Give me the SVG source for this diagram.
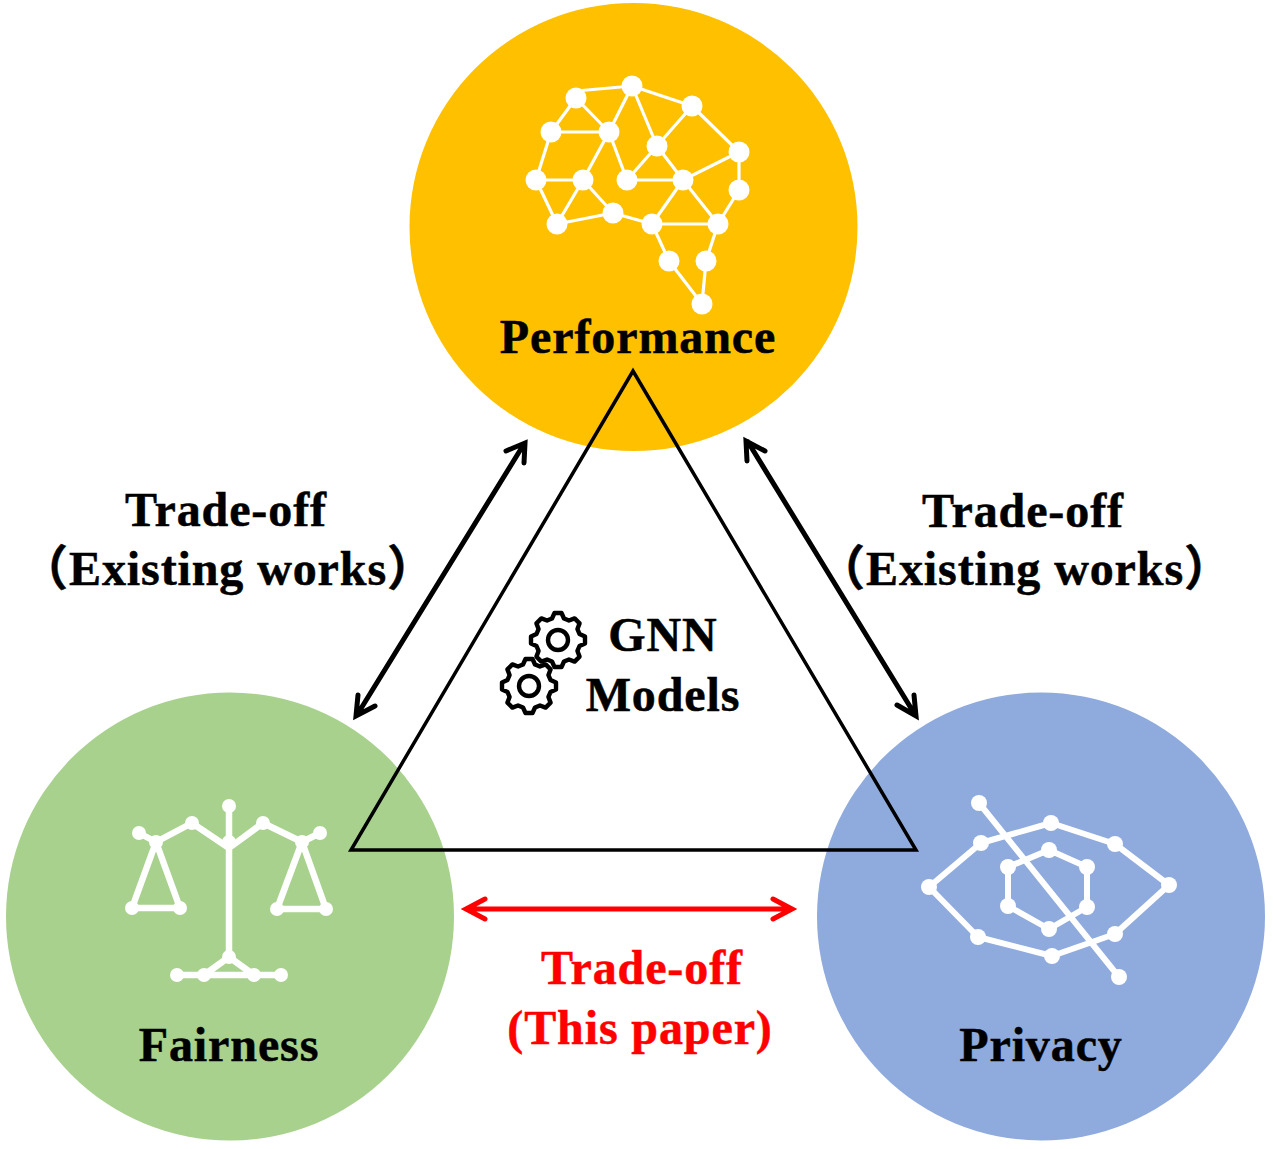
<svg xmlns="http://www.w3.org/2000/svg" width="1274" height="1149" viewBox="0 0 1274 1149">
<style>
text{font-family:"Liberation Serif","Noto Sans CJK SC",serif;font-weight:700;font-size:48px;fill:#000;stroke:#000;stroke-width:.5;letter-spacing:.9px;text-anchor:middle}
text.r{fill:#f00;stroke:#f00}
.w{stroke:#fff;fill:none;stroke-linecap:round;stroke-linejoin:round}
.d{fill:#fff}
.gear{fill:none;stroke:#000;stroke-width:4.4;stroke-linejoin:round}
.arrow{fill:none;stroke:#000;stroke-width:5;stroke-linecap:round;stroke-linejoin:miter}
.red{fill:none;stroke:#f00;stroke-width:5;stroke-linecap:round}
</style>
<defs>
<g id="gearShape">
<path class="gear" d="M-6,-21.5L-3.5,-27L3.5,-27L6,-21.5L10.96,-19.45L16.62,-21.57L21.57,-16.62L19.45,-10.96L21.5,-6L27,-3.5L27,3.5L21.5,6L19.45,10.96L21.57,16.62L16.62,21.57L10.96,19.45L6,21.5L3.5,27L-3.5,27L-6,21.5L-10.96,19.45L-16.62,21.57L-21.57,16.62L-19.45,10.96L-21.5,6L-27,3.5L-27,-3.5L-21.5,-6L-19.45,-10.96L-21.57,-16.62L-16.62,-21.57L-10.96,-19.45Z"/>
<circle class="gear" r="10"/>
</g>
</defs>
<g id="performance">
<circle cx="633.500" cy="227" r="224" fill="#ffc000"/>
<path class="w" stroke-width="3.2" d="M576,91L632,86L692,106L739,152L739,190L718,224M632,86L609,132M632,86L657,146L683,180L739,152M692,106L657,146L627,180M576,98L609,132L583,180L557,224L536,180L551,132L576,98M551,132H609M609,132L627,180H683L652,224L613,213L557,224M536,180H583L613,213L652,224H718L683,180M652,224L669,261L702,304L706,261L718,224"/>
<g class="d"><circle cx="576" cy="98" r="10.500"/><circle cx="632" cy="86" r="10.500"/><circle cx="692" cy="106" r="10.500"/><circle cx="551" cy="132" r="10.500"/><circle cx="609" cy="132" r="10.500"/><circle cx="657" cy="146" r="10.500"/><circle cx="739" cy="152" r="10.500"/><circle cx="536" cy="180" r="10.500"/><circle cx="583" cy="180" r="10.500"/><circle cx="627" cy="180" r="10.500"/><circle cx="683" cy="180" r="10.500"/><circle cx="739" cy="190" r="10.500"/><circle cx="557" cy="224" r="10.500"/><circle cx="613" cy="213" r="10.500"/><circle cx="652" cy="224" r="10.500"/><circle cx="718" cy="224" r="10.500"/><circle cx="669" cy="261" r="10.500"/><circle cx="706" cy="261" r="10.500"/><circle cx="702" cy="304" r="10.500"/></g>
<text x="638" y="353">Performance</text>
</g>
<g id="fairness">
<circle cx="230" cy="916.500" r="224" fill="#a9d18e"/>
<path class="w" stroke-width="6.500" d="M229,806V957M139,833L156,842L192,823L229,848L263,823L302,842L320,833M156,842L132,908H180ZM302,842L277,909H326ZM204,975L229,957L254,975ZM177,975H281"/>
<g class="d"><circle cx="229" cy="806" r="7"/><circle cx="229" cy="842" r="7"/><circle cx="192" cy="823" r="7"/><circle cx="263" cy="823" r="7"/><circle cx="156" cy="842" r="7"/><circle cx="302" cy="842" r="7"/><circle cx="139" cy="833" r="7"/><circle cx="320" cy="833" r="7"/><circle cx="132" cy="908" r="7"/><circle cx="180" cy="908" r="7"/><circle cx="277" cy="909" r="7"/><circle cx="326" cy="909" r="7"/><circle cx="229" cy="957" r="7"/><circle cx="177" cy="975" r="7"/><circle cx="204" cy="975" r="7"/><circle cx="254" cy="975" r="7"/><circle cx="281" cy="975" r="7"/></g>
<text x="229" y="1061">Fairness</text>
</g>
<g id="privacy">
<circle cx="1041" cy="916.500" r="224" fill="#8faadc"/>
<path class="w" stroke-width="6" d="M979,803L1119,977M929,887L981,843L1051,823L1115,844L1169,885L1115,934L1052,956L978,937ZM1008,867L1049,850L1087,867V907L1049,929L1008,906Z"/>
<g class="d"><circle cx="979" cy="803" r="8"/><circle cx="1119" cy="977" r="8"/><circle cx="929" cy="887" r="8"/><circle cx="981" cy="843" r="8"/><circle cx="1051" cy="823" r="8"/><circle cx="1115" cy="844" r="8"/><circle cx="1169" cy="885" r="8"/><circle cx="1115" cy="934" r="8"/><circle cx="1052" cy="956" r="8"/><circle cx="978" cy="937" r="8"/><circle cx="1008" cy="867" r="8"/><circle cx="1049" cy="850" r="8"/><circle cx="1087" cy="867" r="8"/><circle cx="1087" cy="907" r="8"/><circle cx="1049" cy="929" r="8"/><circle cx="1008" cy="906" r="8"/></g>
<text x="1041" y="1061">Privacy</text>
</g>
<g id="gnn-models">
<path d="M633,371L916,850H351Z" fill="none" stroke="#000" stroke-width="3.500"/>
<use href="#gearShape" x="558" y="640"/>
<use href="#gearShape" x="529" y="686"/>
<text x="663" y="651">GNN</text>
<text x="663" y="711">Models</text>
</g>
<g id="connectors">
<path class="arrow" d="M524,444L357,715M506,451L525,443L524,463M358,695L356,716L375,706"/>
<path class="arrow" d="M748,442L914,713M747,461L746,441L765,451M914,695L916,716L897,705"/>
<path class="red" d="M467,909H791M485,899L466,909L485,919M773,899L792,909L773,919"/>
</g>
<g id="labels">
<text x="226" y="526">Trade-off</text>
<text x="228" y="585">（Existing works）</text>
<text x="1023" y="527">Trade-off</text>
<text x="1025" y="585">（Existing works）</text>
<text class="r" x="642" y="984">Trade-off</text>
<text class="r" x="640" y="1044">(This paper)</text>
</g>
</svg>
